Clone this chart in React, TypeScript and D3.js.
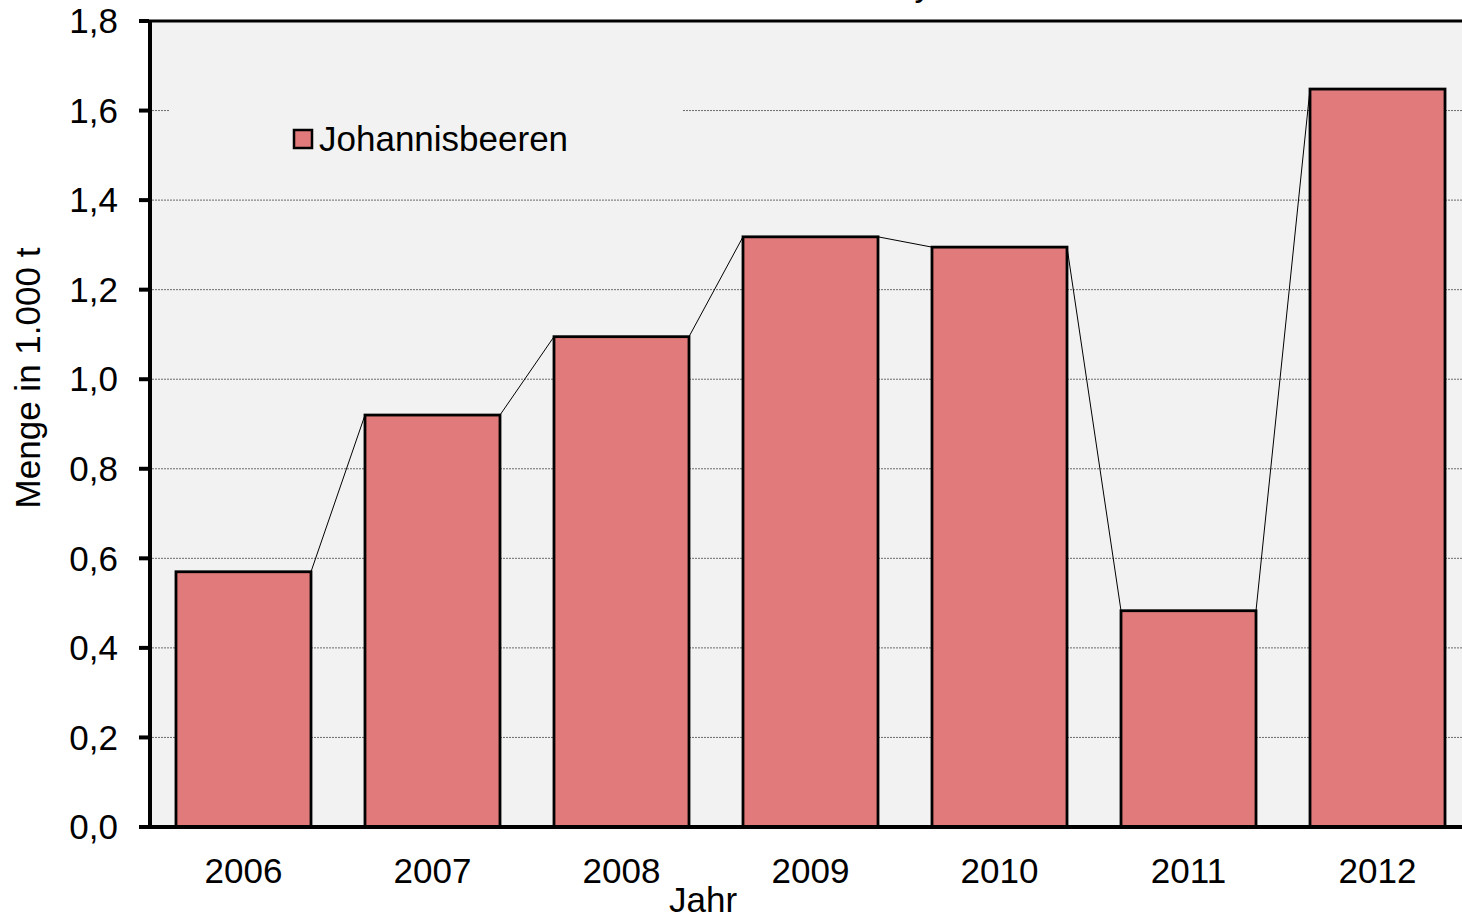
import React from "react";
import * as d3 from "d3";

const years = ["2006", "2007", "2008", "2009", "2010", "2011", "2012"];
const values = [0.57, 0.92, 1.095, 1.318, 1.295, 0.483, 1.648];
const yTicks = [0, 0.2, 0.4, 0.6, 0.8, 1.0, 1.2, 1.4, 1.6, 1.8];
const seriesName = "Johannisbeeren";
const titleText = "Johannisbeeren in Bayern";

const W = 1462;
const H = 917;
const left = 149;
const right = 1472;
const top = 21;
const bottom = 827;
const font = "Liberation Sans, Arial, sans-serif";
const fs = 35;

export default function App() {
  const x = d3.scaleBand<string>().domain(years).range([left, right]).paddingInner(0.2857).paddingOuter(0.1428);
  const y = d3.scaleLinear().domain([0, 1.8]).range([bottom, top]);
  const fmt = (v: number) => d3.format(".1f")(v).replace(".", ",");
  const bw = x.bandwidth();
  const lineSegs = values.slice(0, -1).map((v, i) => ({
    x1: (x(years[i]) as number) + bw,
    y1: y(v),
    x2: x(years[i + 1]) as number,
    y2: y(values[i + 1]),
  }));
  return (
    <svg width={W} height={H} style={{ position: "absolute", left: 0, top: 0 }}>
      <rect x={0} y={0} width={W} height={H} fill="#fff" />
      <text x={576} y={-4} fontFamily={font} fontSize={fs}>{titleText}</text>
      <rect x={left} y={top} width={right - left} height={bottom - top} fill="#F2F2F2" />
      {yTicks.slice(1).map((t) => (
        <line key={t} x1={left} x2={right} y1={y(t)} y2={y(t)} stroke="#6b6b6b" strokeWidth={1} strokeDasharray="2 1" />
      ))}
      <rect x={170} y={92} width={513} height={88} fill="#F2F2F2" />
      {lineSegs.map((s, i) => (
        <line key={i} x1={s.x1} y1={s.y1} x2={s.x2} y2={s.y2} stroke="#000" strokeWidth={1} />
      ))}
      {values.map((v, i) => (
        <rect key={years[i]} x={x(years[i])} y={y(v)} width={bw} height={bottom - y(v)} fill="#E17B7B" stroke="#000" strokeWidth={2.8} />
      ))}
      <line x1={left} x2={right} y1={top} y2={top} stroke="#000" strokeWidth={3} />
      <line x1={139} x2={right} y1={bottom} y2={bottom} stroke="#000" strokeWidth={4} />
      <line x1={left + 1} x2={left + 1} y1={top - 1} y2={bottom + 2} stroke="#000" strokeWidth={4} />
      {yTicks.map((t) => (
        <g key={t}>
          <line x1={139} x2={left} y1={y(t)} y2={y(t)} stroke="#000" strokeWidth={4} />
          <text x={118} y={y(t)} dy="0.35em" textAnchor="end" fontFamily={font} fontSize={fs}>{fmt(t)}</text>
        </g>
      ))}
      {years.map((yr) => (
        <text key={yr} x={(x(yr) as number) + bw / 2} y={883} textAnchor="middle" fontFamily={font} fontSize={fs}>{yr}</text>
      ))}
      <text x={703} y={912} textAnchor="middle" fontFamily={font} fontSize={fs}>Jahr</text>
      <text transform={`translate(40,378) rotate(-90)`} textAnchor="middle" fontFamily={font} fontSize={fs}>Menge in 1.000 t</text>
      <rect x={294} y={130} width={18} height={18} fill="#E17B7B" stroke="#000" strokeWidth={2.5} />
      <text x={319} y={151} fontFamily={font} fontSize={fs}>{seriesName}</text>
    </svg>
  );
}
